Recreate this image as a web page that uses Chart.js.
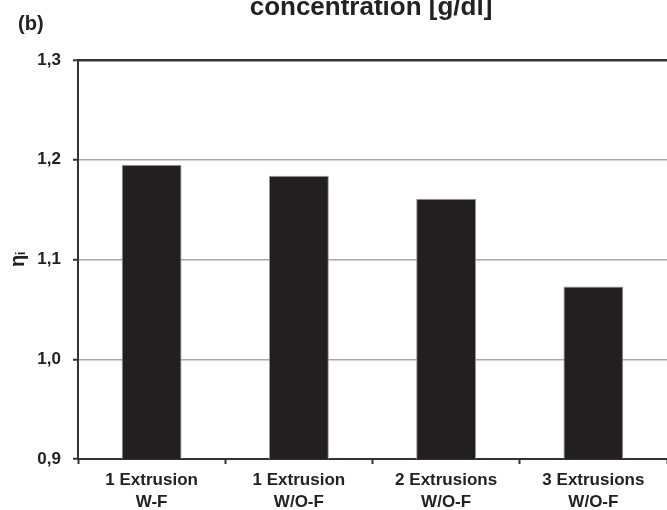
<!DOCTYPE html>
<html>
<head>
<meta charset="utf-8">
<script src="https://cdn.jsdelivr.net/npm/chart.js@4/dist/chart.umd.min.js"></script>
<style>
  html, body { margin: 0; padding: 0; background: #ffffff; }
  #wrap { position: relative; width: 667px; height: 510px; overflow: hidden; }
  canvas { display: block; }
</style>
</head>
<body>
<div id="wrap"><canvas id="chart" width="667" height="510"></canvas></div>
<script>
// Inherent viscosity of the extruded samples
const categories = [
  ['1 Extrusion', 'W-F'],
  ['1 Extrusion', 'W/O-F'],
  ['2 Extrusions', 'W/O-F'],
  ['3 Extrusions', 'W/O-F']
];
const viscosity = [1.195, 1.184, 1.161, 1.073];
const yTicks = [0.9, 1.0, 1.1, 1.2, 1.3];

const FONT = '"Liberation Sans", Arial, Helvetica, sans-serif';
const INK = '#222222';
const AXIS = '#333333';

// Panel letter and the heading line above the plot
const headings = {
  id: 'headings',
  afterDraw(chart) {
    const ctx = chart.ctx;
    ctx.save();
    ctx.fillStyle = INK;
    ctx.textBaseline = 'alphabetic';
    ctx.font = 'bold 26px ' + FONT;
    ctx.textAlign = 'center';
    ctx.fillText('concentration [g/dl]', 371, 15);
    ctx.font = 'bold 20px ' + FONT;
    ctx.textAlign = 'left';
    ctx.fillText('(b)', 18, 30);
    ctx.restore();
  }
};

new Chart(document.getElementById('chart'), {
  type: 'bar',
  data: {
    labels: categories,
    datasets: [{
      data: viscosity,
      backgroundColor: '#231f20',
      borderColor: '#9a9a9a',
      borderWidth: 1,
      barPercentage: 0.407,
      categoryPercentage: 1.0
    }]
  },
  plugins: [headings],
  options: {
    responsive: false,
    animation: false,
    devicePixelRatio: 1,
    layout: { padding: { top: 60, left: 0, right: 0, bottom: 0 } },
    plugins: {
      legend: { display: false },
      tooltip: { enabled: false },
      title: { display: false }
    },
    scales: {
      x: {
        offset: true,
        border: { display: true, color: AXIS, width: 2 },
        grid: {
          offset: true,
          drawOnChartArea: false,
          drawTicks: true,
          tickLength: 5,
          tickColor: AXIS,
          tickWidth: 2
        },
        ticks: {
          color: INK,
          padding: 6,
          maxRotation: 0,
          autoSkip: false,
          font: { family: FONT, size: 17, weight: 'bold', lineHeight: 1.25 }
        },
        afterFit(scale) { scale.height = 51; }
      },
      y: {
        min: 0.9,
        max: 1.3,
        border: { display: true, color: AXIS, width: 2 },
        grid: {
          color: (c) => (c.tick && Math.abs(c.tick.value - 1.3) < 1e-6) ? AXIS : '#a8a8a8',
          lineWidth: (c) => (c.tick && Math.abs(c.tick.value - 1.3) < 1e-6) ? 2.5 : 1.5,
          drawTicks: true,
          tickLength: 5,
          tickColor: AXIS,
          tickWidth: 2
        },
        afterBuildTicks(scale) {
          scale.ticks = yTicks.map(v => ({ value: v }));
        },
        ticks: {
          color: INK,
          padding: 12,
          font: { family: FONT, size: 17, weight: 'bold' },
          callback: (v) => Number(v).toFixed(1).replace('.', ',')
        },
        title: {
          display: true,
          text: 'ηᵢ',
          color: INK,
          font: { family: FONT, size: 20, weight: 'bold', lineHeight: 1.2 },
          padding: { top: 6, bottom: 0 }
        },
        afterFit(scale) { scale.width = 78; }
      }
    }
  }
});
</script>
</body>
</html>
